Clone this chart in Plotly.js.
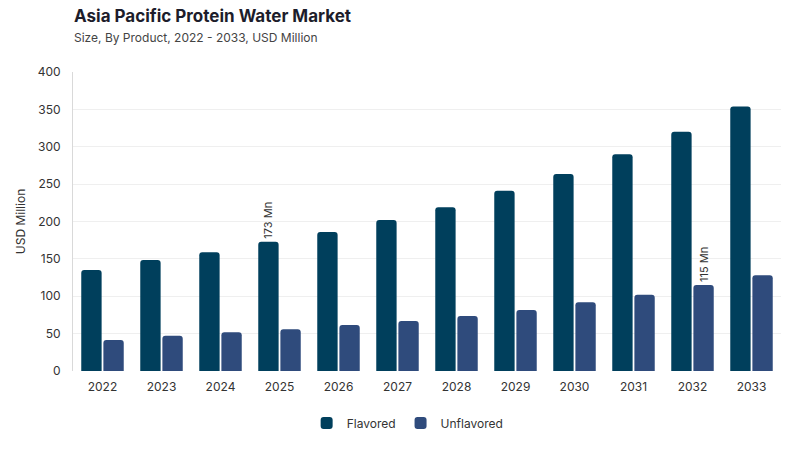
<!DOCTYPE html>
<html>
<head>
<meta charset="utf-8">
<script src="https://cdn.plot.ly/plotly-3.0.1.min.js"></script>
<style>
  html, body { margin: 0; padding: 0; background: #fff; }
  #chart { width: 800px; height: 450px; }
</style>
</head>
<body>
<div id="chart"></div>
<script>
// Asia Pacific protein water market, by product (USD Million)
const years = ['2022', '2023', '2024', '2025', '2026', '2027', '2028', '2029', '2030', '2031', '2032', '2033'];
const flavored = [135, 148.5, 159, 173, 186, 202, 219, 241, 263.5, 290, 320, 354];
const unflavored = [41.5, 47, 52, 56, 61.5, 67, 73.5, 81.5, 92, 102, 115, 128];

// which points carry a value label
const flavoredLabelYears = ['2025'];
const unflavoredLabelYears = ['2032'];

const FONT = 'Inter, "Open Sans", sans-serif';

function labels(vals, keep) {
  return vals.map((v, i) => keep.includes(years[i]) ? Math.round(v) + ' Mn' : '');
}

const flavoredTrace = {
  type: 'bar', name: 'Flavored', x: years, y: flavored,
  marker: { color: '#003F5C' },
  text: labels(flavored, flavoredLabelYears),
  textposition: 'outside', textangle: -90, cliponaxis: false, constraintext: 'none',
  textfont: { family: FONT, size: 11, color: '#333' },
  hoverinfo: 'x+y'
};

const unflavoredTrace = {
  type: 'bar', name: 'Unflavored', x: years, y: unflavored,
  marker: { color: '#2F4B7C' },
  text: labels(unflavored, unflavoredLabelYears),
  textposition: 'outside', textangle: -90, cliponaxis: false, constraintext: 'none',
  textfont: { family: FONT, size: 11, color: '#333' },
  hoverinfo: 'x+y'
};

const layout = {
  width: 800, height: 450,
  paper_bgcolor: '#fff', plot_bgcolor: '#fff',
  margin: { t: 72, r: 19, b: 79, l: 73, autoexpand: false },
  font: { family: FONT, color: '#333' },
  barmode: 'group', bargap: 0.25, bargroupgap: 0.08, barcornerradius: 3,
  xaxis: {
    type: 'category', showgrid: false, showline: false, ticks: '',
    automargin: false, ticklabelstandoff: 7,
    tickfont: { family: FONT, size: 12, color: '#333' }
  },
  yaxis: {
    range: [0, 400], dtick: 50, gridcolor: '#efefef', zeroline: false,
    showline: true, linecolor: '#d9d9d9', linewidth: 1,
    ticks: '', ticklen: 0, automargin: false, ticklabelstandoff: 9,
    tickfont: { family: FONT, size: 12, color: '#333' },
    title: { text: 'USD Million', font: { family: FONT, size: 12, color: '#333' }, standoff: 9 }
  },
  showlegend: true,
  legend: {
    orientation: 'h', x: 0.33, xanchor: 'left', y: -0.174, yanchor: 'middle',
    font: { family: FONT, size: 12, color: '#333' }, traceorder: 'normal'
  },
  annotations: [
    {
      xref: 'paper', yref: 'paper', x: -0.001, y: 1.147, xanchor: 'left', yanchor: 'bottom',
      text: '<b>Asia Pacific Protein Water Market</b>', showarrow: false,
      font: { family: FONT, size: 17, color: '#1d1d2b' }
    },
    {
      xref: 'paper', yref: 'paper', x: -0.001, y: 1.084, xanchor: 'left', yanchor: 'bottom',
      text: 'Size, By Product, 2022 - 2033, USD Million', showarrow: false,
      font: { family: FONT, size: 12, color: '#444' }
    }
  ]
};

Plotly.newPlot('chart', [flavoredTrace, unflavoredTrace], layout, { displayModeBar: false, staticPlot: true });
</script>
</body>
</html>
